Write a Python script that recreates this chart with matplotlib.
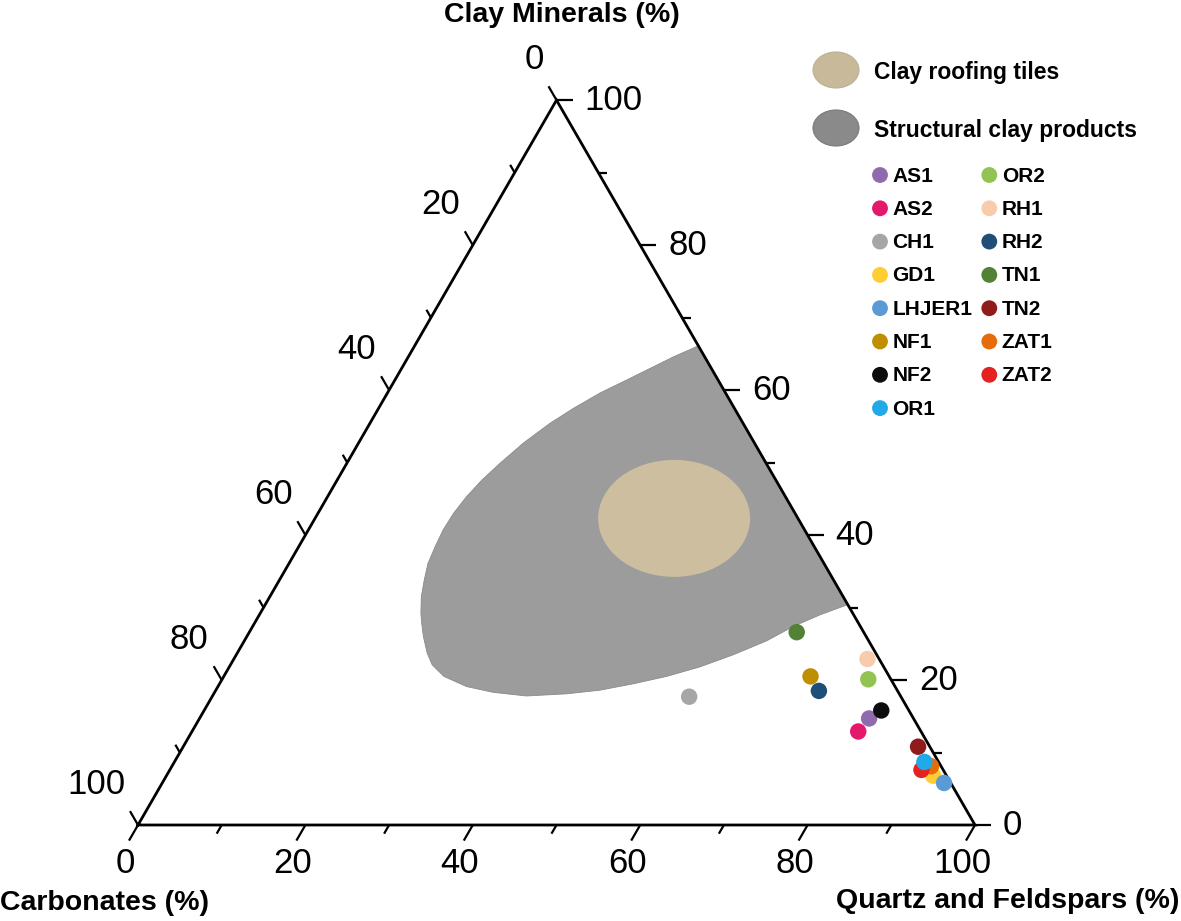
import numpy as np
import matplotlib
matplotlib.use("Agg")
import matplotlib.pyplot as plt
from matplotlib.patches import Ellipse, Polygon

plt.rcParams['font.family'] = ['Liberation Sans', 'DejaVu Sans']

# samples (composition in %)
samples = ['AS1', 'AS2', 'CH1', 'GD1', 'LHJER1', 'NF1', 'NF2', 'OR1',
           'OR2', 'RH1', 'RH2', 'TN1', 'TN2', 'ZAT1', 'ZAT2']
quartz = [80.0, 79.6, 57.0, 91.6, 93.4, 70.1, 80.9, 89.6,
          77.2, 75.7, 72.1, 65.4, 87.8, 90.7, 89.8]
clay = [14.7, 12.9, 17.7, 6.8, 5.8, 20.5, 15.8, 8.7,
        20.1, 22.9, 18.5, 26.6, 10.8, 8.1, 7.6]
carbonates = [5.3, 7.5, 25.3, 1.6, 0.8, 9.4, 3.3, 1.7,
              2.7, 1.4, 9.4, 8.0, 1.4, 1.2, 2.6]
colors = ['#8f6aae', '#e4196e', '#a6a6a6', '#ffcc33', '#5b9bd5', '#bf8f00', '#0d0d0d', '#22aae8',
          '#92c353', '#f8cbad', '#1f4e79', '#538135', '#8f1b1b', '#e46c0a', '#e52222']

# structural clay products field (quartz %, clay %)
struct_quartz = [33.9, 31.7, 29.7, 27.7, 25.4, 23.3, 21.5, 19.7, 18.3, 17.3, 16.6, 16.2,
                 16.1, 16.3, 16.6, 17.3, 18.1, 19.2, 20.0, 21.1, 22.7, 24.1,
                 26.3, 29.7, 33.3, 37.5, 42.2, 45.9, 49.5, 52.9, 56.2, 59.4, 62.4,
                 64.6, 67.0, 69.6]
struct_clay = [66.1, 64.6, 63.0, 61.4, 59.6, 57.5, 55.4, 52.7, 49.9, 47.6, 45.3, 43.0,
               40.7, 38.4, 36.1, 33.8, 31.5, 29.2, 27.8, 26.0, 23.7, 22.1,
               20.5, 19.1, 18.3, 17.8, 18.1, 18.6, 19.5, 20.5, 21.8, 23.5, 25.4,
               27.4, 29.0, 30.4]
# clay roofing tiles field centre
tiles_quartz = 42.9
tiles_clay = 42.3

ticks = list(range(0, 101, 10))
H = np.sqrt(3) / 2
PX = 837.0


def tern(q, c):
    q = np.asarray(q, dtype=float) / 100
    c = np.asarray(c, dtype=float) / 100
    return q + c / 2, c * H


def px(x, y):
    return (x - 138) / PX, (825 - y) / PX


fig = plt.figure(figsize=(11.81, 9.21), dpi=100)
ax = fig.add_axes([0, 0, 1, 1])
ax.set_xlim(-138 / PX, (1181 - 138) / PX)
ax.set_ylim(-96 / PX, 825 / PX)
ax.axis('off')

# fields
sx, sy = tern(struct_quartz, struct_clay)
ax.add_patch(Polygon(np.column_stack([sx, sy]), closed=True, facecolor='#9c9c9c',
                     edgecolor='#8a8a8a', linewidth=0.6, joinstyle='round', zorder=1))
tx, ty = tern(tiles_quartz, tiles_clay)
ax.add_patch(Ellipse((tx, ty), 152 / PX, 117 / PX, facecolor='#cdbe9f', edgecolor='none', zorder=2))

# triangle
ax.plot([0, 1, 0.5, 0], [0, 0, H, 0], color='black', lw=2.0, zorder=3, solid_joinstyle='miter')

tick_kw = dict(color='black', lw=1.6, zorder=3, solid_capstyle='butt')
lab_kw = dict(fontsize=25, color='black')
for v in ticks:
    major = v % 20 == 0
    # bottom axis (quartz)
    L = (18 if major else 10) / PX
    x0, y0 = v / 100, 0
    ax.plot([x0, x0 - 0.5 * L], [y0, y0 - H * L], **tick_kw)
    # right axis (clay)
    L = (16 if major else 9) / PX
    x1, y1 = 1 - v / 200, H * v / 100
    ax.plot([x1, x1 + L], [y1, y1], **tick_kw)
    # left axis (carbonates)
    L = (16 if major else 9) / PX
    x2, y2 = 0.5 - v / 200, H * (1 - v / 100)
    ax.plot([x2, x2 - 0.5 * L], [y2, y2 + H * L], **tick_kw)
    if major:
        ax.text(x0 - 13 / PX, y0 - 38 / PX, str(v), ha='center', va='center', **lab_kw)
        ax.text(x1 + 28 / PX, y1, str(v), ha='left', va='center', **lab_kw)
        ax.text(x2 - 13 / PX, y2 + 41 / PX, str(v), ha='right', va='center', **lab_kw)

title_kw = dict(fontsize=20.5, fontweight='bold', va='center')
ax.text(*px(562, 15), 'Clay Minerals (%)', ha='center', **title_kw)
ax.text(*px(0, 903), 'Carbonates (%)', ha='left', **title_kw)
ax.text(*px(1179, 901), 'Quartz and Feldspars (%)', ha='right', **title_kw)

# samples
for i, name in enumerate(samples):
    x, y = tern(quartz[i], clay[i])
    ax.scatter(x, y, s=140, color=colors[i], edgecolors='none',
               zorder=6 if name == 'OR1' else 5)

# legend
ax.add_patch(Ellipse(px(836, 70), 46 / PX, 36 / PX, facecolor='#c9b99b', edgecolor='#bfb091', lw=0.8))
ax.add_patch(Ellipse(px(836, 128), 46 / PX, 36 / PX, facecolor='#8a8a8a', edgecolor='#7a7a7a', lw=0.8))
ax.text(*px(874, 72), 'Clay roofing tiles', fontsize=16.5, fontweight='bold', va='center')
ax.text(*px(874, 130), 'Structural clay products', fontsize=16.5, fontweight='bold', va='center')
for i, name in enumerate(samples):
    col, row = divmod(i, 8)
    mx = 880 + col * 109.3
    my = 175 + row * 33.3
    ax.scatter(*px(mx, my), s=130, color=colors[i], edgecolors='none')
    ax.text(*px(mx + 12.5, my + 1), name, fontsize=15, fontweight='bold', va='center')

fig.savefig('out.png', dpi=100)
